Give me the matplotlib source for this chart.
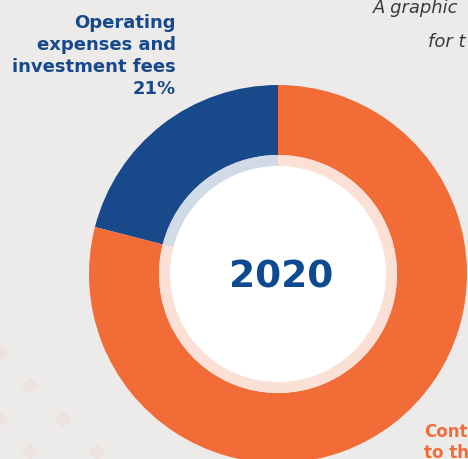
import matplotlib.pyplot as plt
from matplotlib.patches import RegularPolygon

# data
labels = ["Operating expenses and investment fees", "Contributions"]
shares = [21, 79]
year = "2020"

colors = ["#17498b", "#f26c38"]
light_colors = ["#d0dbe7", "#fbe0d6"]
bg = "#ecebe9"

fig = plt.figure(figsize=(4.68, 4.59), dpi=100, facecolor=bg)
ax = fig.add_axes([0, 0, 1, 1])
ax.set_facecolor(bg)

# donut, pixel coordinates (y up)
cx, cy = 278, 459 - 274
ax.pie(shares, colors=colors, startangle=90, counterclock=True,
       center=(cx, cy), radius=189, frame=True,
       wedgeprops=dict(width=70, linewidth=0))
ax.pie(shares, colors=light_colors, startangle=90, counterclock=True,
       center=(cx, cy), radius=119, frame=True,
       wedgeprops=dict(width=12, linewidth=0))
ax.pie([1], colors=["white"], center=(cx, cy), radius=108, frame=True,
       wedgeprops=dict(linewidth=0))

# faint diamonds in the background
for x, y in [(30, 386), (63, 419), (30, 452), (97, 452), (0, 353), (0, 419)]:
    ax.add_patch(RegularPolygon((x, 459 - y), 4, radius=7.5, orientation=0,
                                color="#eee2df", zorder=0))

ax.set_xlim(0, 468)
ax.set_ylim(0, 459)
ax.set_aspect("equal")
ax.axis("off")

ax.text(cx + 3, cy - 3, year, ha="center", va="center", fontsize=27,
        fontweight="bold", color="#0d4a8f")

ax.text(176, 459 - 56, "Operating\nexpenses and\ninvestment fees\n%d%%" % shares[0],
        ha="right", va="center", fontsize=13, fontweight="bold",
        color=colors[0], linespacing=1.27)

# text cut by the right edge in the reference
ax.text(373, 459 - 8, "A graphic", ha="left", va="center",
        fontsize=13, style="italic", color="#3a3a3a")
ax.text(428, 459 - 42, "for t", ha="left", va="center",
        fontsize=13, style="italic", color="#3a3a3a")

ax.text(424, 459 - 432, "Cont", ha="left", va="center",
        fontsize=12, fontweight="bold", color=colors[1])
ax.text(424, 459 - 453, "to th", ha="left", va="center",
        fontsize=12, fontweight="bold", color=colors[1])

fig.savefig("out.png", dpi=100, facecolor=bg)
